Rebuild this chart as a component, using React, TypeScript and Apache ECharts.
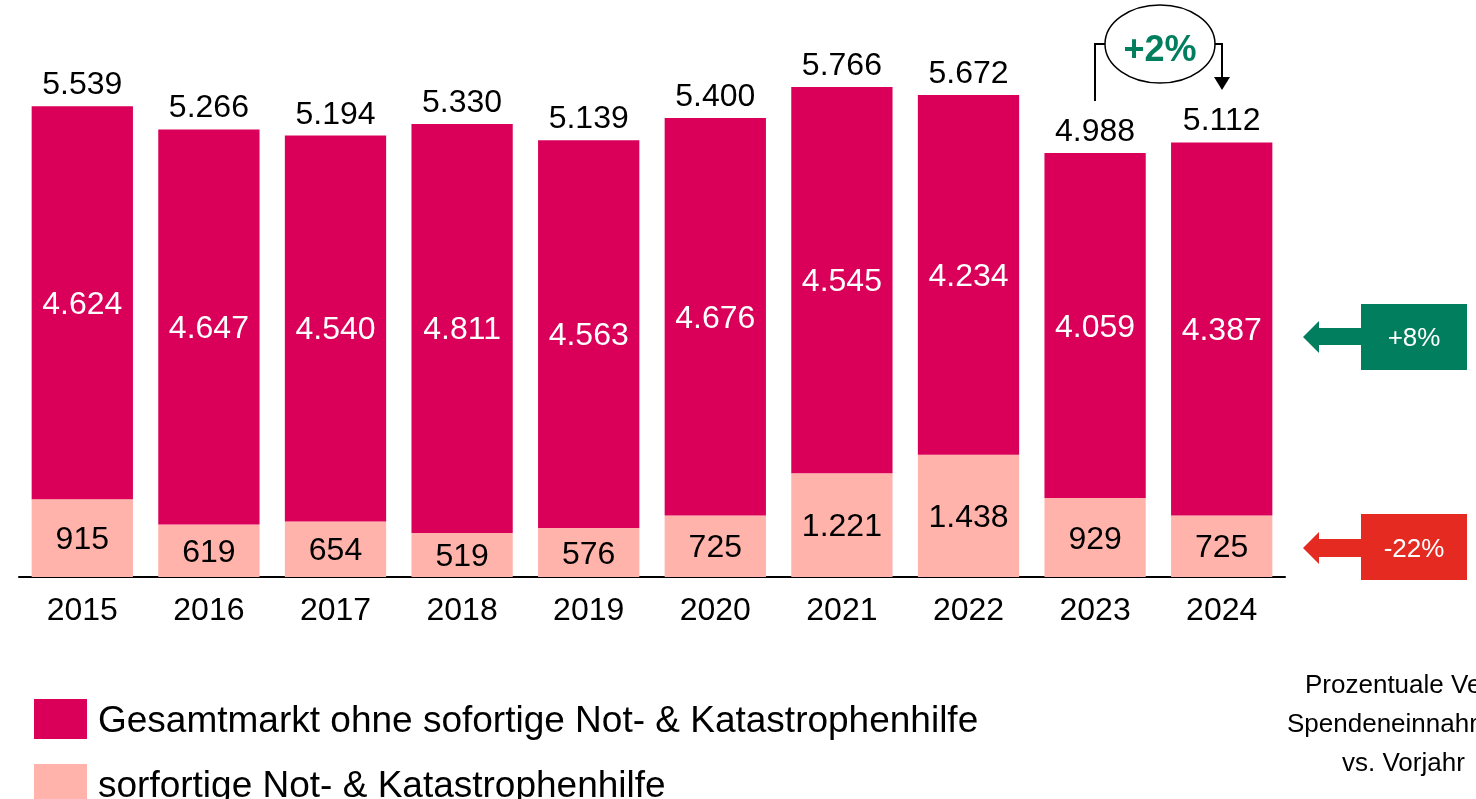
import React, { useEffect, useRef } from "react";
import * as echarts from "echarts";

const years = ["2015", "2016", "2017", "2018", "2019", "2020", "2021", "2022", "2023", "2024"];
const sofortHilfe = [915, 619, 654, 519, 576, 725, 1221, 1438, 929, 725];
const gesamtOhne = [4624, 4647, 4540, 4811, 4563, 4676, 4545, 4234, 4059, 4387];
const totals = [5539, 5266, 5194, 5330, 5139, 5400, 5766, 5672, 4988, 5112];

const nameTop = "Gesamtmarkt ohne sofortige Not- & Katastrophenhilfe";
const nameBottom = "sorfortige Not- & Katastrophenhilfe";

const MAGENTA = "#DA0059";
const PINK = "#FFB3AA";
const GREEN = "#007E5E";
const RED = "#E52A21";
const FONT = "'Liberation Sans', Arial, sans-serif";
const LABEL_SIZE = 32;

const fmt = (v: number) => {
  const s = String(v);
  return s.length > 3 ? s.slice(0, s.length - 3) + "." + s.slice(s.length - 3) : s;
};

const legendBase = {
  left: 29,
  itemWidth: 53,
  itemHeight: 40,
  icon: "rect",
  textStyle: { fontSize: 37, color: "#000", fontFamily: FONT, padding: [0, 0, 0, 6] },
};

export default function App() {
  const ref = useRef<HTMLDivElement>(null);
  useEffect(() => {
    document.body.style.margin = "0";
    const chart = echarts.init(ref.current!, null, { renderer: "svg" });
    chart.setOption({
      animation: false,
      textStyle: { fontFamily: FONT },
      grid: { left: 19, right: 191, top: 67, bottom: 222 },
      legend: [
        { ...legendBase, top: 694, data: [nameTop] },
        { ...legendBase, top: 759, data: [nameBottom] },
      ],
      xAxis: {
        type: "category",
        data: years,
        axisLine: { show: true, lineStyle: { color: "#000", width: 2 } },
        axisTick: { show: false },
        axisLabel: { fontSize: LABEL_SIZE, color: "#000", margin: 16, fontFamily: FONT },
      },
      yAxis: {
        type: "value",
        min: 0,
        max: 6000,
        show: false,
        splitLine: { show: false },
      },
      series: [
        {
          name: nameBottom,
          type: "bar",
          stack: "a",
          barCategoryGap: "20%",
          data: sofortHilfe,
          itemStyle: { color: PINK },
          label: {
            show: true,
            position: "inside",
            color: "#000",
            fontSize: LABEL_SIZE,
            fontFamily: FONT,
            formatter: (p: any) => fmt(p.value),
          },
        },
        {
          name: nameTop,
          type: "bar",
          stack: "a",
          barCategoryGap: "20%",
          data: gesamtOhne,
          itemStyle: { color: MAGENTA },
          label: {
            show: true,
            position: "inside",
            color: "#fff",
            fontSize: LABEL_SIZE,
            fontFamily: FONT,
            formatter: (p: any) => fmt(p.value),
          },
        },
        {
          name: "Gesamt",
          type: "scatter",
          data: totals,
          symbolSize: 0,
          itemStyle: { color: "#000", opacity: 1 },
          silent: true,
          label: {
            show: true,
            position: "top",
            distance: 7,
            color: "#000",
            opacity: 1,
            fontSize: LABEL_SIZE,
            fontFamily: FONT,
            formatter: (p: any) => fmt(p.value),
          },
        },
      ],
      graphic: [
        // +2% annotation
        {
          type: "polyline",
          shape: { points: [[1095, 101], [1095, 44], [1105, 44]] },
          style: { stroke: "#000", lineWidth: 2, fill: null },
        },
        {
          type: "polyline",
          shape: { points: [[1214, 44], [1222, 44], [1222, 78]] },
          style: { stroke: "#000", lineWidth: 2, fill: null },
        },
        {
          type: "polygon",
          shape: { points: [[1214, 77], [1230, 77], [1222, 90]] },
          style: { fill: "#000" },
        },
        {
          type: "ellipse",
          shape: { cx: 1160, cy: 44, rx: 55, ry: 39 },
          style: { fill: "#fff", stroke: "#000", lineWidth: 1.5 },
        },
        {
          type: "text",
          x: 1160,
          y: 48,
          style: {
            text: "+2%",
            fill: GREEN,
            font: `bold 36px ${FONT}`,
            textAlign: "center",
            textVerticalAlign: "middle",
          },
        },
        // +8% arrow box
        {
          type: "polygon",
          shape: {
            points: [[1303, 337], [1319, 321], [1319, 328], [1362, 328], [1362, 345], [1319, 345], [1319, 353]],
          },
          style: { fill: GREEN },
        },
        { type: "rect", shape: { x: 1361, y: 304, width: 106, height: 66 }, style: { fill: GREEN } },
        {
          type: "text",
          x: 1414,
          y: 337,
          style: { text: "+8%", fill: "#fff", font: `26px ${FONT}`, textAlign: "center", textVerticalAlign: "middle" },
        },
        // -22% arrow box
        {
          type: "polygon",
          shape: {
            points: [[1303, 548], [1319, 532], [1319, 539], [1362, 539], [1362, 557], [1319, 557], [1319, 564]],
          },
          style: { fill: RED },
        },
        { type: "rect", shape: { x: 1361, y: 514, width: 106, height: 66 }, style: { fill: RED } },
        {
          type: "text",
          x: 1414,
          y: 548,
          style: { text: "-22%", fill: "#fff", font: `26px ${FONT}`, textAlign: "center", textVerticalAlign: "middle" },
        },
        // bottom-right caption
        {
          type: "text",
          x: 1305,
          y: 684,
          style: { text: "Prozentuale Veränderung", fill: "#000", font: `26px ${FONT}`, textAlign: "left", textVerticalAlign: "middle" },
        },
        {
          type: "text",
          x: 1287,
          y: 723,
          style: { text: "Spendeneinnahmen", fill: "#000", font: `26px ${FONT}`, textAlign: "left", textVerticalAlign: "middle" },
        },
        {
          type: "text",
          x: 1342,
          y: 762,
          style: { text: "vs. Vorjahr", fill: "#000", font: `26px ${FONT}`, textAlign: "left", textVerticalAlign: "middle" },
        },
      ],
    });
    return () => chart.dispose();
  }, []);
  return <div ref={ref} style={{ position: "fixed", left: 0, top: 0, width: 1476, height: 799 }} />;
}
